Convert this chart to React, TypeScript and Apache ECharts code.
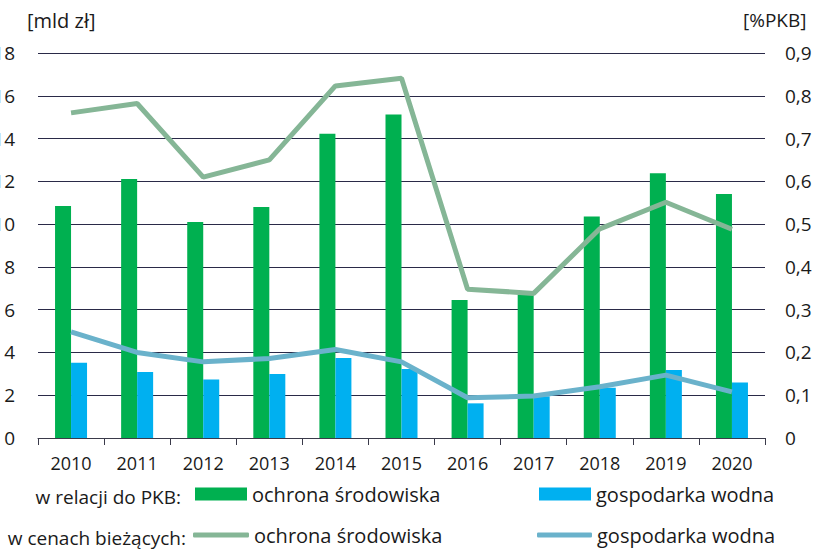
import React, { useEffect, useRef } from "react";
import * as echarts from "echarts";

const years = ["2010", "2011", "2012", "2013", "2014", "2015", "2016", "2017", "2018", "2019", "2020"];
// bars, left axis [mld zł]
const barOchrona = [10.85, 12.11, 10.1, 10.8, 14.22, 15.13, 6.45, 6.7, 10.36, 12.38, 11.41];
const barWodna = [3.52, 3.09, 2.74, 2.99, 3.74, 3.23, 1.62, 1.95, 2.35, 3.18, 2.6];
// lines, right axis [%PKB]
const lineOchrona = [0.76, 0.782, 0.61, 0.65, 0.823, 0.841, 0.348, 0.338, 0.489, 0.551, 0.488];
const lineWodna = [0.248, 0.2, 0.178, 0.186, 0.207, 0.178, 0.094, 0.098, 0.12, 0.147, 0.108];

const leftTicks = { min: 0, max: 18, interval: 2 };
const rightTicks = { min: 0, max: 0.9, interval: 0.1 };

const FONT = "Open Sans";
const TXT = "#1a1a1a";
const GREEN = "#00B050";
const BLUE = "#00B0F0";
const LGREEN = "#85B696";
const LBLUE = "#6AB2CB";

export default function App() {
  const ref = useRef<HTMLDivElement>(null);
  useEffect(() => {
    document.body.style.margin = "0";
    const chart = echarts.init(ref.current!, null, { renderer: "svg" });
    const legendCommon = {
      orient: "horizontal",
      padding: 0,
      selectedMode: false,
      textStyle: { fontFamily: FONT, fontSize: 20, color: TXT },
    };
    chart.setOption({
      animation: false,
      textStyle: { fontFamily: FONT },
      grid: { left: 38, right: 54, top: 53, bottom: 111, containLabel: false, outerBoundsMode: "none" },
      xAxis: {
        type: "category",
        data: years,
        axisLine: { show: true, lineStyle: { color: "#3a3a4a", width: 1 } },
        axisTick: { show: true, interval: 0, length: 7, lineStyle: { color: "#3a3a4a" } },
        axisLabel: { fontFamily: FONT, fontSize: 18, color: TXT, margin: 16, interval: 0 },
      },
      yAxis: [
        {
          type: "value",
          ...leftTicks,
          axisLine: { show: false },
          axisTick: { show: false },
          axisLabel: { fontFamily: FONT, fontSize: 19, color: TXT, margin: 23 },
          splitLine: { show: true, lineStyle: { color: "#2a2a48", width: 1 } },
        },
        {
          type: "value",
          ...rightTicks,
          position: "right",
          axisLine: { show: false },
          axisTick: { show: false },
          splitLine: { show: false },
          axisLabel: {
            fontFamily: FONT,
            fontSize: 19,
            color: TXT,
            margin: 20,
            formatter: (v: number) => (v === 0 ? "0" : v.toFixed(1).replace(".", ",")),
          },
        },
      ],
      legend: [
        { ...legendCommon, left: 195, top: 484, itemWidth: 52, itemHeight: 13, icon: "rect", data: ["ochrona środowiska (bar)"], formatter: () => "ochrona środowiska" },
        { ...legendCommon, left: 539, top: 484, itemWidth: 52, itemHeight: 13, icon: "rect", data: ["gospodarka wodna (bar)"], formatter: () => "gospodarka wodna" },
        { ...legendCommon, left: 193, top: 525, itemWidth: 56, itemHeight: 5, icon: "roundRect", data: ["ochrona środowiska (line)"], formatter: () => "ochrona środowiska" },
        { ...legendCommon, left: 537, top: 525, itemWidth: 55, itemHeight: 5, icon: "roundRect", data: ["gospodarka wodna (line)"], formatter: () => "gospodarka wodna" },
      ],
      graphic: [
        { type: "text", left: 27, top: 10, style: { text: "[mld zł]", font: `20px ${FONT}`, fill: TXT } },
        { type: "text", left: 743, top: 10, style: { text: "[%PKB]", font: `19px ${FONT}`, fill: TXT } },
        { type: "text", x: 181, y: 497, style: { text: "w relacji do PKB:", font: `19px ${FONT}`, fill: TXT, textAlign: "right", textVerticalAlign: "middle" } },
        { type: "text", x: 186, y: 538, style: { text: "w cenach bieżących:", font: `19px ${FONT}`, fill: TXT, textAlign: "right", textVerticalAlign: "middle" } },
      ],
      series: [
        { name: "ochrona środowiska (bar)", type: "bar", yAxisIndex: 0, data: barOchrona, barWidth: 16, barGap: "0%", itemStyle: { color: GREEN } },
        { name: "gospodarka wodna (bar)", type: "bar", yAxisIndex: 0, data: barWodna, barWidth: 16, barGap: "0%", itemStyle: { color: BLUE } },
        { name: "ochrona środowiska (line)", type: "line", yAxisIndex: 1, data: lineOchrona, symbol: "none", lineStyle: { color: LGREEN, width: 5 }, itemStyle: { color: LGREEN }, z: 5 },
        { name: "gospodarka wodna (line)", type: "line", yAxisIndex: 1, data: lineWodna, symbol: "none", lineStyle: { color: LBLUE, width: 5 }, itemStyle: { color: LBLUE }, z: 5 },
      ],
    });
    return () => chart.dispose();
  }, []);
  return <div ref={ref} style={{ width: 819, height: 549 }} />;
}
